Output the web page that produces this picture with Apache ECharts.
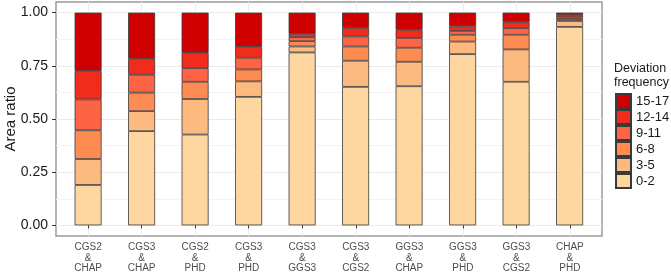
<!DOCTYPE html>
<html><head><meta charset="utf-8">
<script src="https://cdn.jsdelivr.net/npm/echarts@6/dist/echarts.min.js"></script>
<style>html,body{margin:0;padding:0;background:#fff}#c{width:671px;height:272px}</style>
</head><body><div id="c"></div>
<script>
const categories = ['CGS2\n&\nCHAP','CGS3\n&\nCHAP','CGS2\n&\nPHD','CGS3\n&\nPHD','CGS3\n&\nGGS3','CGS3\n&\nCGS2','GGS3\n&\nCHAP','GGS3\n&\nPHD','GGS3\n&\nCGS2','CHAP\n&\nPHD'];
const groups = ['0-2','3-5','6-8','9-11','12-14','15-17'];
const v0_2   = [0.190,0.443,0.427,0.604,0.813,0.651,0.654,0.805,0.675,0.933];
const v3_5   = [0.122,0.094,0.167,0.073,0.028,0.123,0.115,0.059,0.152,0.028];
const v6_8   = [0.135,0.087,0.081,0.056,0.025,0.067,0.066,0.032,0.069,0.009];
const v9_11  = [0.145,0.084,0.064,0.055,0.019,0.047,0.046,0.018,0.031,0.008];
const v12_14 = [0.134,0.075,0.072,0.051,0.015,0.040,0.038,0.022,0.028,0.010];
const v15_17 = [0.274,0.217,0.189,0.161,0.100,0.072,0.081,0.064,0.045,0.012];
const yTicks = [0, 0.25, 0.5, 0.75, 1];
const yMinor = [0.125, 0.375, 0.625, 0.875];
const catPos = [1,2,3,4,5,6,7,8,9,10];

const seriesValues = [v0_2, v3_5, v6_8, v9_11, v12_14, v15_17];
const colors = ['#FED7A0','#FDBA80','#FE8C52','#FD6446','#F22C1C','#CE0000'];
const FONT = 'Liberation Sans, Arial, sans-serif';

const chart = echarts.init(document.getElementById('c'), null, {renderer:'canvas'});
chart.setOption({
  animation: false,
  textStyle: {fontFamily: FONT},
  title: {
    text: 'Deviation\nfrequency', left: 614, top: 62, padding: 0,
    textStyle: {fontFamily: FONT, fontSize: 12.5, fontWeight: 'normal', color: '#1a1a1a', lineHeight: 14}
  },
  legend: {
    data: groups.slice().reverse(), orient: 'vertical', left: 615, top: 93,
    itemWidth: 15, itemHeight: 14, itemGap: 0, padding: 0, icon: 'rect', selectedMode: false,
    textStyle: {fontFamily: FONT, fontSize: 13, color: '#1a1a1a', lineHeight: 14}
  },
  grid: [
    {left: 56, top: 2, width: 546, height: 234, show: true, borderColor: '#9a9a9a', borderWidth: 1.5, backgroundColor: 'transparent', containLabel: false, outerBoundsMode: 'none'},
    {left: 61.35, top: 2, width: 535, height: 234, containLabel: false, outerBoundsMode: 'none'}
  ],
  xAxis: [
    {type: 'value', gridIndex: 0, min: 0.4, max: 10.6,
     axisLine: {show: false},
     axisTick: {show: true, customValues: catPos, length: 3, lineStyle: {color: '#333'}},
     axisLabel: {customValues: catPos, formatter: v => categories[Math.round(v)-1], fontSize: 10, lineHeight: 10.5, color: '#4d4d4d', margin: 6, fontFamily: FONT},
     splitLine: {show: true, lineStyle: {color: '#ebebeb', width: 1}}},
    {type: 'category', gridIndex: 1, data: categories, show: false}
  ],
  yAxis: [
    {type: 'value', gridIndex: 0, min: -0.05, max: 1.05,
     name: 'Area ratio', nameLocation: 'middle', nameGap: 38, nameRotate: 90, nameMoveOverlap: false,
     nameTextStyle: {fontSize: 15, color: '#1a1a1a', fontFamily: FONT},
     axisLine: {show: false},
     axisTick: {show: true, customValues: yTicks, length: 4, lineStyle: {color: '#333'}},
     axisLabel: {customValues: yTicks, formatter: v => v.toFixed(2), fontSize: 14, color: '#1a1a1a', margin: 8, fontFamily: FONT},
     splitLine: {show: true, lineStyle: {color: '#ebebeb', width: 1}}},
    {type: 'value', gridIndex: 0, min: -0.05, max: 1.05,
     axisLine: {show: false}, axisLabel: {show: false},
     axisTick: {show: false, customValues: yMinor},
     splitLine: {show: true, lineStyle: {color: '#f3f3f3', width: 1}}},
    {type: 'value', gridIndex: 1, min: -0.05, max: 1.05, show: false, splitLine: {show: false}}
  ],
  series: groups.map((g, i) => ({
    name: g, type: 'bar', xAxisIndex: 1, yAxisIndex: 2, stack: 'total', barWidth: 27,
    data: seriesValues[i],
    itemStyle: {color: colors[i], borderColor: '#3a3a3a', borderWidth: 0.8},
    emphasis: {disabled: true}
  }))
});
</script></body></html>
